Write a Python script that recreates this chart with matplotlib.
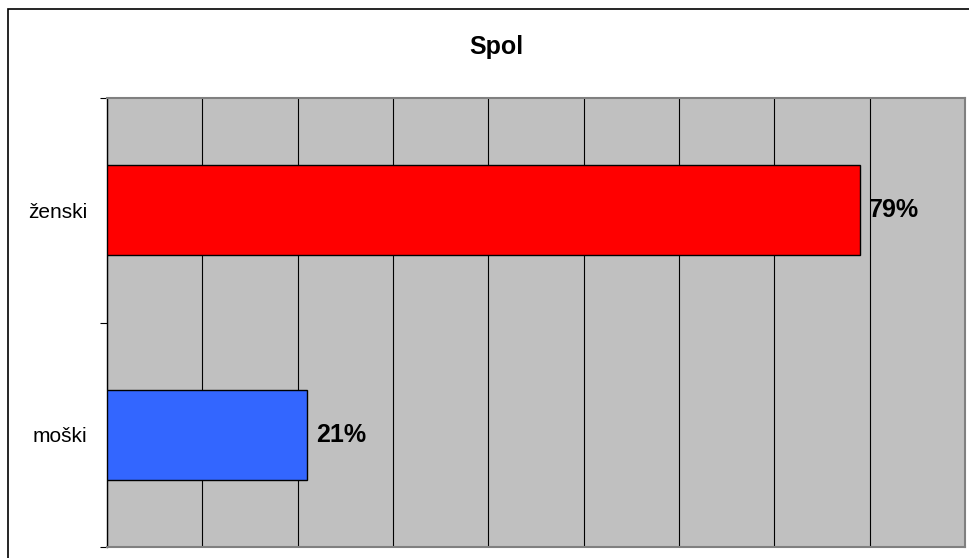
import matplotlib.pyplot as plt
from matplotlib.patches import Rectangle
from matplotlib.ticker import FixedLocator, MultipleLocator

plt.rcParams['font.family'] = ['Liberation Sans', 'DejaVu Sans']

categories = ['moški', 'ženski']
values = [0.21, 0.79]
colors = ['#3366FF', '#FF0000']

fig = plt.figure(figsize=(9.7, 5.58), dpi=100)
ax = fig.add_axes([107 / 970, 1 - 547 / 558, 858 / 970, 449 / 558])
ax.set_facecolor('#C0C0C0')

ypos = list(range(len(categories)))
ax.barh(ypos, values, height=0.4, color=colors, edgecolor='black', linewidth=1, zorder=3)

for y, v in zip(ypos, values):
    ax.annotate(f'{v:.0%}', (v, y), xytext=(6.5, 0), textcoords='offset points',
                va='center', ha='left', fontsize=18, fontweight='bold', zorder=4)

ax.set_xlim(0, 0.9)
ax.set_ylim(-0.5, len(categories) - 0.5)
ax.xaxis.set_major_locator(MultipleLocator(0.1))
ax.grid(axis='x', color='black', linewidth=0.8, zorder=1)
ax.tick_params(axis='x', which='both', bottom=False, labelbottom=False)

ax.yaxis.set_major_locator(FixedLocator([-0.5, 0.5, 1.5]))
ax.yaxis.set_minor_locator(FixedLocator(ypos))
ax.set_yticklabels([], minor=False)
ax.set_yticklabels(categories, minor=True, fontsize=15)
ax.tick_params(axis='y', which='major', length=5, width=0.8, direction='out')
ax.tick_params(axis='y', which='minor', length=0, pad=14)

for side in ['top', 'right', 'bottom']:
    ax.spines[side].set_color('#808080')
    ax.spines[side].set_linewidth(1.5)
ax.spines['left'].set_color('black')
ax.spines['left'].set_linewidth(1)

fig.text(496 / 970, 1 - 54 / 558, 'Spol', ha='center', va='baseline',
         fontsize=18, fontweight='bold')

fig.patches.append(Rectangle((8 / 970, -0.1), 1.2, 1 - 9 / 558 + 0.1,
                             transform=fig.transFigure, fill=False,
                             edgecolor='black', linewidth=1.2))

fig.savefig('out.png', dpi=100)
